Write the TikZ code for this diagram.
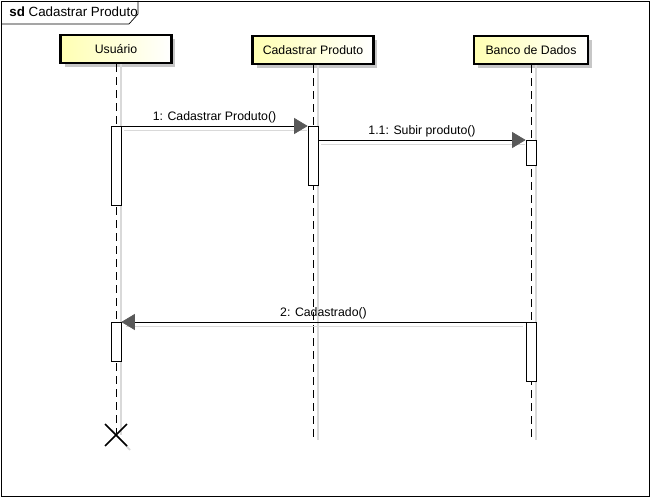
\documentclass[tikz,border=0pt]{standalone}
\usepackage{fontspec}
\setmainfont{Liberation Sans}
\usetikzlibrary{arrows.meta,shadows}

\tikzset{
  head/.style={draw,line width=1.4pt,left color=yellow!30,right color=white,
    minimum height=0.56cm,inner sep=0pt,font=\fontsize{7}{8}\selectfont,
    drop shadow={shadow xshift=0.08cm,shadow yshift=-0.08cm,fill=black!22,opacity=1}},
  act/.style={draw,fill=white,minimum width=0.2cm,inner sep=0pt,anchor=north},
  life/.style={dash pattern=on 0.16cm off 0.1cm},
  ghost/.style={black!15,line width=0.7pt},
  msg/.style={-{Triangle[length=0.27cm,width=0.32cm,color=black!65,fill=black!65]}},
  lbl/.style={font=\fontsize{7}{8}\selectfont,inner sep=1.5pt}
}

\begin{document}
\begin{tikzpicture}[x=0.02cm,y=-0.02cm]
  \useasboundingbox (0,0) rectangle (652,500);
  % frame sd
  \draw (1,1) rectangle (649,496);
  \draw (1,24) -- (129,24) -- (138,14) -- (138,1);
  \node[anchor=west,font=\fontsize{7.6}{9}\selectfont,inner sep=0pt] (frame) at (9,12)
    {\textbf{sd} Cadastrar Produto};

  % lifeline heads
  \node[head,minimum width=2.22cm] (usr) at (116,49) {Usuário};
  \node[head,minimum width=2.42cm] (cad) at (313,50) {Cadastrar Produto};
  \node[head,minimum width=2.28cm] (bd)  at (531,50) {Banco de Dados};

  % end of the lifelines
  \coordinate (usrEnd) at (116,435);
  \coordinate (cadEnd) at (313,440);
  \coordinate (bdEnd)  at (531,440);

  % ghost lines next to the lifelines
  \draw[ghost] ([xshift=0.1cm]usr.south) -- ([xshift=0.1cm]usrEnd);
  \draw[ghost] ([xshift=0.1cm]cad.south) -- ([xshift=0.1cm]cadEnd);
  \draw[ghost] ([xshift=0.1cm]bd.south)  -- ([xshift=0.1cm]bdEnd);

  % lifelines
  \draw[life] (usr.south) -- (usrEnd);
  \draw[life] (cad.south) -- (cadEnd);
  \draw[life] (bd.south)  -- (bdEnd);

  % activation bars
  \node[act,minimum height=1.58cm] (u1) at (116,126) {};
  \node[act,minimum height=0.78cm] (u2) at (116,322) {};
  \node[act,minimum height=1.18cm] (c1) at (313,126) {};
  \node[act,minimum height=0.5cm]  (b1) at (531,140) {};
  \node[act,minimum height=1.18cm] (b2) at (531,322) {};

  % ghost lines under the messages
  \draw[ghost] ([shift={(0.06cm,-0.09cm)}]u1.north east) -- ([shift={(-0.02cm,-0.09cm)}]c1.north west);
  \draw[ghost] ([shift={(0.06cm,-0.09cm)}]b1.north west -| c1.east) -- ([shift={(-0.02cm,-0.09cm)}]b1.north west);
  \draw[ghost] ([shift={(-0.06cm,-0.09cm)}]b2.north west) -- ([shift={(0.1cm,-0.09cm)}]u2.north east);

  % messages
  \draw[msg] (u1.north east) -- node[lbl,above] {1: Cadastrar Produto()} (c1.north west);
  \draw[msg] (b1.north west -| c1.east) -- node[lbl,above] {1.1: Subir produto()} (b1.north west);
  \draw[msg] (b2.north west) -- node[lbl,above] {2: Cadastrado()} (u2.north east);

  % destroy
  \draw[black!15,line width=1pt] ([shift={(-0.08cm,0.1cm)}]usrEnd) -- ([shift={(0.28cm,-0.3cm)}]usrEnd);
  \draw[line width=1pt] ([shift={(-0.22cm,0.22cm)}]usrEnd) -- ([shift={(0.22cm,-0.22cm)}]usrEnd)
    ([shift={(-0.22cm,-0.22cm)}]usrEnd) -- ([shift={(0.22cm,0.22cm)}]usrEnd);
\end{tikzpicture}
\end{document}
